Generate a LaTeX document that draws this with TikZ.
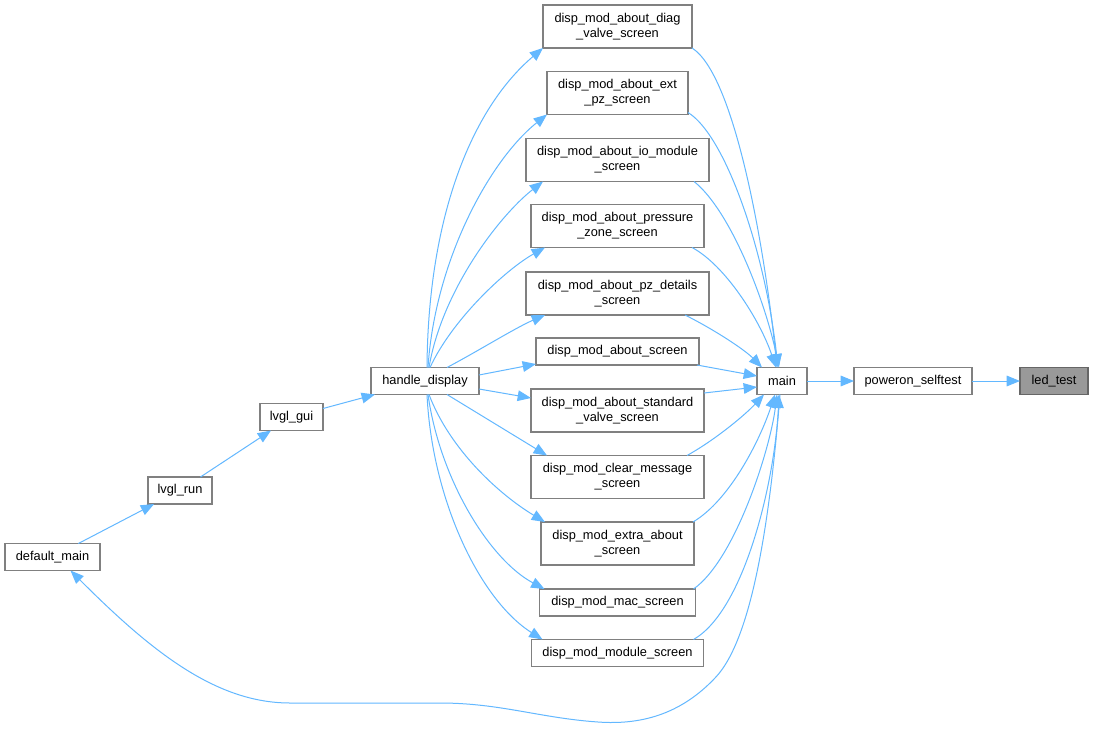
\documentclass[tikz,border=0pt]{standalone}
\usepackage{fontspec}
\setmainfont{Liberation Sans}
\usetikzlibrary{arrows.meta,calc}
\definecolor{edgeblue}{HTML}{63B8FF}
\definecolor{nborder}{HTML}{808080}
\definecolor{rootfill}{HTML}{999999}
\definecolor{rootborder}{HTML}{666666}
\begin{document}
\begin{tikzpicture}[x=0.75pt,y=-0.75pt,
  fn/.style={draw=nborder, fill=white, line width=1pt, inner sep=0pt, outer sep=0pt,
    align=center, font=\fontsize{9.6}{11.25}\selectfont, minimum height=20.25pt},
  tall/.style={minimum height=32.25pt},
  bw/.style={minimum width=#1*0.75pt},
  call/.style={draw=edgeblue, line width=0.75pt, -{Triangle[length=10pt,width=8pt]}}]
\useasboundingbox (0,0) rectangle (1093,729);
\fill[white] (0,0) rectangle (1093,729);

% nodes
\node[fn,tall,bw=149] (diag)  at (617.5,26.5)  {disp\_mod\_about\_diag\\\_valve\_screen};
\node[fn,tall,bw=141] (ext)   at (617.5,93)    {disp\_mod\_about\_ext\\\_pz\_screen};
\node[fn,tall,bw=183] (io)    at (617.5,160)   {disp\_mod\_about\_io\_module\\\_screen};
\node[fn,tall,bw=173] (press) at (617.5,226)   {disp\_mod\_about\_pressure\\\_zone\_screen};
\node[fn,tall,bw=183] (pzd)   at (617.5,293.5) {disp\_mod\_about\_pz\_details\\\_screen};
\node[fn,bw=163]      (abs)   at (617.5,351.5) {disp\_mod\_about\_screen};
\node[fn,tall,bw=173] (std)   at (617.5,410.5) {disp\_mod\_about\_standard\\\_valve\_screen};
\node[fn,tall,bw=173] (clr)   at (617.5,477)   {disp\_mod\_clear\_message\\\_screen};
\node[fn,tall,bw=153] (ext2)  at (617.5,543.5) {disp\_mod\_extra\_about\\\_screen};
\node[fn,bw=156]      (mac)   at (617.5,602.5) {disp\_mod\_mac\_screen};
\node[fn,bw=172]      (mod)   at (617.5,653)   {disp\_mod\_module\_screen};

\node[fn,bw=50]  (main) at (782,381)   {main};
\node[fn,bw=118] (pow)  at (913,381)   {poweron\_selftest};
\node[fn,bw=68,fill=rootfill,draw=rootborder] (led) at (1054,381) {led\_test};
\node[fn,bw=108] (hd)   at (425,381)   {handle\_display};
\node[fn,bw=63]  (gui)  at (291.5,417) {lvgl\_gui};
\node[fn,bw=64]  (run)  at (180,490.5) {lvgl\_run};
\node[fn,bw=95]  (dm)   at (52.5,557)  {default\_main};

% simple chain
\draw[call] (pow) -- (led);
\draw[call] (main) -- (pow);
\draw[call] (gui) -- (hd);
\draw[call] (run) -- (gui);
\draw[call] (dm) -- (run);

% handle_display -> screens
\draw[call] ($(hd.north)+(2,0)$) .. controls (428,220) and (470,110) .. (diag.south west);
\draw[call] ($(hd.north)+(3,0)$) .. controls (435,260) and (490,160) .. (ext.south west);
\draw[call] ($(hd.north)+(4,0)$) .. controls (442,290) and (500,215) .. ($(io.south west)+(17,0)$);
\draw[call] ($(hd.north)+(5,0)$) .. controls (452,320) and (505,270) .. ($(press.south west)+(14,0)$);
\draw[call] ($(hd.north)+(22,0)$) .. controls (480,350) and (515,328) .. ($(pzd.south west)+(19,0)$);
\draw[call] ($(hd.east)+(0,-6)$) -- ($(abs.south west)+(0,-1)$);
\draw[call] ($(hd.east)+(0,8)$) -- ($(std.west)+(0,-12.5)$);
\draw[call] ($(hd.south)+(22,0)$) -- ($(clr.north west)+(16,0)$);
\draw[call] ($(hd.south)+(4,0)$) .. controls (450,450) and (500,495) .. ($(ext2.north west)+(4,0)$);
\draw[call] ($(hd.south)+(3,0)$) .. controls (440,480) and (490,560) .. ($(mac.north west)+(5,0)$);
\draw[call] ($(hd.south)+(2,0)$) .. controls (432,500) and (480,600) .. ($(mod.north west)+(11,0)$);

% screens -> main
\draw[call] (diag.south east) .. controls (735,75) and (765,250) .. ($(main.north)+(-5,0)$);
\draw[call] ($(ext.south east)+(0,-2)$) .. controls (725,135) and (765,250) .. ($(main.north)+(-4,0)$);
\draw[call] ($(io.south east)+(-15,0)$) .. controls (730,210) and (765,300) .. ($(main.north)+(-3,0)$);
\draw[call] ($(press.south east)+(-12,0)$) .. controls (725,265) and (760,320) .. ($(main.north)+(-6,0)$);
\draw[call] ($(pzd.south east)+(-24,0)$) .. controls (715,330) and (745,350) .. ($(main.north west)+(5,0)$);
\draw[call] ($(abs.south east)+(-2,0)$) -- ($(main.west)+(0,-5)$);
\draw[call] ($(std.north east)+(0,4)$) -- ($(main.west)+(0,6)$);
\draw[call] ($(clr.north east)+(-17,0)$) .. controls (715,440) and (745,415) .. ($(main.south west)+(7,0)$);
\draw[call] ($(ext2.north east)+(-1,0)$) .. controls (730,500) and (760,440) .. ($(main.south)+(-7,0)$);
\draw[call] ($(mac.north east)+(-2,0)$) .. controls (735,560) and (770,450) .. ($(main.south)+(-5,0)$);
\draw[call] ($(mod.north east)+(-10,0)$) .. controls (745,610) and (775,480) .. ($(main.south)+(-3,0)$);

% main -> default_main (long bottom curve)
\draw[call] ($(main.south)+(-2,0)$) .. controls (770,520) and (752,640) .. (715,678)
  .. controls (680,715) and (640,725) .. (598,722)
  .. controls (540,718) and (500,703) .. (440,703) -- (290,703)
  .. controls (215,703) and (150,650) .. ($(dm.south)+(18,0)$);
\end{tikzpicture}
\end{document}
